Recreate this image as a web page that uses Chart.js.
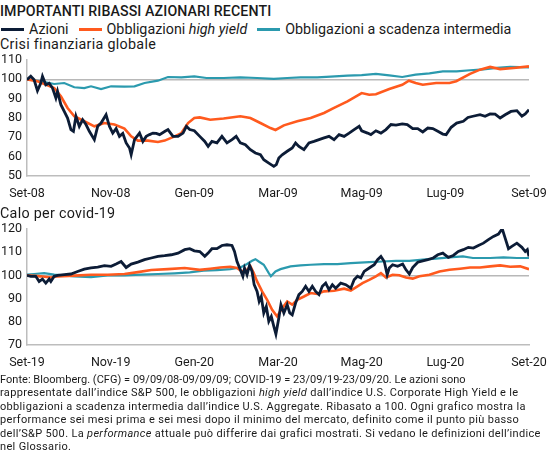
<!DOCTYPE html>
<html>
<head>
<meta charset="utf-8">
<script src="https://cdn.jsdelivr.net/npm/chart.js@4"></script>
<style>
  body { margin: 0; background: #fff; font-family: Roboto, sans-serif; color: #1a1a1a; }
  .page { position: relative; width: 547px; height: 456px; overflow: hidden; }
  .txt { position: absolute; left: 0; white-space: nowrap; }
  .title { top: 3px; font-size: 14.2px; font-weight: 500; letter-spacing: 0.1px; }
  .legend { top: 21px; font-size: 14.3px; display: flex; align-items: center; }
  .legend span.sw { display: inline-block; width: 23px; height: 3px; margin: 0 5px 0 1px; }
  .legend span.item { margin-right: 9px; }
  .sub { font-size: 14.3px; letter-spacing: 0.3px; }
  .chartbox { position: absolute; left: 0; width: 547px; height: 156px; }
  .note { top: 373px; font-size: 11px; line-height: 13.4px; letter-spacing: 0.33px; }
  .note .l1 { letter-spacing: 0.03px; }
</style>
</head>
<body>
<div class="page">
  <div class="txt title">IMPORTANTI RIBASSI AZIONARI RECENTI</div>
  <div class="txt legend">
    <span class="sw" style="background:#0c1c36"></span><span class="item">Azioni</span>
    <span class="sw" style="background:#ff5a1e"></span><span class="item">Obbligazioni <i>high yield</i></span>
    <span class="sw" style="background:#2b9aae"></span><span class="item">Obbligazioni a scadenza intermedia</span>
  </div>
  <div class="txt sub" style="top:36px">Crisi finanziaria globale</div>
  <div class="chartbox" style="top:50px"><canvas id="gfc"></canvas></div>
  <div class="txt sub" style="top:205px">Calo per covid-19</div>
  <div class="chartbox" style="top:219px"><canvas id="covid"></canvas></div>
  <div class="txt note"><span class="l1">Fonte: Bloomberg. (CFG) = 09/09/08-09/09/09; COVID-19 = 23/09/19-23/09/20. Le azioni sono</span><br>rappresentate dall’indice S&amp;P 500, le obbligazioni <i>high yield</i> dall’indice U.S. Corporate High Yield e le<br>obbligazioni a scadenza intermedia dall’indice U.S. Aggregate. Ribasato a 100. Ogni grafico mostra la<br>performance sei mesi prima e sei mesi dopo il minimo del mercato, definito come il punto più basso<br>dell’S&amp;P 500. La <i>performance</i> attuale può differire dai grafici mostrati. Si vedano le definizioni dell’indice<br>nel Glossario.</div>
</div>
<script>
// series names
const seriesNames = ['Azioni', 'Obbligazioni high yield', 'Obbligazioni a scadenza intermedia']

// crisi finanziaria globale (x = months from Set-08)
const gfcTicks = ['Set-08', 'Nov-08', 'Gen-09', 'Mar-09', 'Mag-09', 'Lug-09', 'Set-09']
const gfcStocksM = [0, 0.09, 0.17, 0.25, 0.33, 0.37, 0.45, 0.53, 0.61, 0.69, 0.73, 0.81, 0.89, 0.97, 1.05, 1.11, 1.17, 1.25, 1.33, 1.41, 1.49, 1.61, 1.69, 1.77, 1.89, 1.97, 2.05, 2.13, 2.21, 2.29, 2.37, 2.45, 2.49, 2.57, 2.69, 2.77, 2.85, 2.93, 3.01, 3.09, 3.17, 3.29, 3.37, 3.49, 3.61, 3.73, 3.81, 3.89, 4.0, 4.13, 4.25, 4.33, 4.42, 4.54, 4.66, 4.78, 4.9, 5.0, 5.1, 5.22, 5.34, 5.46, 5.58, 5.66, 5.78, 5.9, 5.96, 6.02, 6.1, 6.22, 6.34, 6.42, 6.5, 6.62, 6.74, 6.86, 6.98, 7.1, 7.22, 7.34, 7.46, 7.58, 7.7, 7.82, 7.94, 8.0, 8.14, 8.22, 8.34, 8.46, 8.58, 8.7, 8.82, 8.97, 9.09, 9.22, 9.34, 9.46, 9.58, 9.7, 9.82, 9.94, 10.02, 10.14, 10.27, 10.43, 10.54, 10.66, 10.83, 10.95, 11.07, 11.19, 11.31, 11.43, 11.57, 11.71, 11.83, 11.91, 12.0]
const gfcStocks = [99.8, 101.6, 99.8, 94.1, 98.1, 101.6, 97.2, 98, 95.5, 90.3, 93.8, 86.9, 83.4, 80, 74, 73.1, 80.9, 75.7, 79.1, 76.6, 73.1, 68.8, 75.7, 77.4, 81.7, 75.7, 72.2, 74.5, 70.5, 72, 67.1, 64.5, 61, 68.8, 72.2, 67.9, 70.5, 71.4, 72.2, 72, 71.4, 73, 74, 70.5, 70.5, 72.2, 75.7, 74, 73.4, 70.5, 67.9, 65.3, 67.9, 67.1, 70.5, 67.1, 68.8, 70.5, 67.1, 66.2, 63.6, 61.9, 61, 58.4, 56.7, 55, 55.9, 59.3, 61, 62.8, 64.5, 67.1, 65.3, 63.6, 67.1, 67.9, 68.8, 69.7, 70.5, 68.8, 71.4, 70.5, 72.2, 74, 75.7, 73.4, 72.2, 71.4, 73.4, 72.2, 74, 76.6, 76.3, 77, 76.6, 74.5, 74.5, 72.8, 74.8, 74.5, 73.1, 71.7, 71.4, 75.2, 77.4, 78.3, 80.3, 80.9, 81.7, 80.9, 82.1, 82, 80, 81.7, 83.4, 83.8, 80.9, 82.1, 84.3]
const gfcHighYieldM = [0, 0.25, 0.49, 0.65, 0.81, 0.97, 1.13, 1.37, 1.61, 1.85, 2.09, 2.33, 2.49, 2.65, 2.89, 3.13, 3.29, 3.53, 3.69, 3.85, 4.0, 4.13, 4.38, 4.7, 5.1, 5.34, 5.58, 5.82, 5.94, 6.14, 6.46, 6.78, 7.1, 7.34, 7.66, 8.0, 8.18, 8.34, 8.66, 8.97, 9.13, 9.29, 9.46, 9.78, 10.1, 10.26, 10.59, 10.83, 11.07, 11.31, 11.63, 12.0]
const gfcHighYield = [100, 99, 96.9, 95.5, 91.2, 85.2, 80.9, 78.3, 75.7, 77.4, 76.6, 74.5, 70.5, 68.3, 68.3, 67.6, 68.3, 70.5, 72.2, 77.4, 80, 80.3, 79.1, 79.7, 80.9, 80, 77.4, 74.8, 73.8, 76.2, 78.3, 80, 82.6, 85.2, 88.6, 92.9, 92, 92.3, 95, 97.2, 99.3, 98.1, 97.2, 98.1, 98.1, 99, 102.8, 105, 106.4, 105.3, 105.9, 106.7]
const gfcIntermM = [0, 0.33, 0.65, 0.89, 1.13, 1.37, 1.53, 1.77, 2.01, 2.33, 2.57, 2.81, 3.13, 3.37, 3.69, 4.0, 4.29, 4.7, 5.1, 5.5, 5.9, 6.22, 6.54, 6.94, 7.26, 7.66, 8.0, 8.34, 8.66, 8.97, 9.29, 9.62, 9.94, 10.27, 10.59, 10.91, 11.23, 11.55, 12.0]
const gfcInterm = [100, 99, 97.6, 98.1, 95.9, 95.5, 96.4, 95, 96.4, 96.2, 96.4, 98.1, 99.3, 101.2, 101, 101.5, 100.7, 100.7, 101, 100.7, 100.2, 100.7, 101, 101, 101.4, 101.9, 102.2, 102.8, 102, 101.2, 102.4, 103.1, 104.1, 104.1, 104.7, 105.2, 105.9, 106.4, 106.2]

// calo per covid-19 (x = months from Set-19)
const covidTicks = ['Set-19', 'Nov-19', 'Gen-20', 'Mar-20', 'Mag-20', 'Lug-20', 'Set-20']
const covidStocksM = [0, 0.09, 0.21, 0.29, 0.37, 0.45, 0.53, 0.57, 0.65, 0.73, 0.89, 1.05, 1.21, 1.37, 1.53, 1.69, 1.85, 2.01, 2.13, 2.25, 2.37, 2.49, 2.65, 2.81, 2.97, 3.13, 3.29, 3.45, 3.61, 3.77, 3.89, 4.0, 4.13, 4.25, 4.33, 4.42, 4.54, 4.66, 4.78, 4.9, 4.96, 5.02, 5.1, 5.16, 5.2, 5.26, 5.32, 5.38, 5.43, 5.5, 5.55, 5.6, 5.66, 5.72, 5.78, 5.84, 5.9, 5.95, 6.02, 6.07, 6.14, 6.22, 6.28, 6.34, 6.42, 6.5, 6.58, 6.66, 6.74, 6.82, 6.9, 6.98, 7.06, 7.14, 7.22, 7.3, 7.38, 7.5, 7.62, 7.74, 7.82, 7.9, 7.98, 8.06, 8.18, 8.3, 8.38, 8.46, 8.54, 8.61, 8.66, 8.74, 8.86, 8.98, 9.06, 9.14, 9.22, 9.34, 9.46, 9.58, 9.71, 9.82, 9.94, 10.07, 10.19, 10.31, 10.43, 10.55, 10.67, 10.79, 10.91, 11.03, 11.15, 11.27, 11.36, 11.43, 11.51, 11.59, 11.71, 11.83, 11.91, 11.96, 12.0]
const covidStocks = [100, 99.6, 99.6, 97.4, 98.4, 96.7, 98.4, 97.4, 99.6, 100, 100.3, 100.6, 101.7, 102.7, 103.2, 103.6, 104.2, 103.9, 104.9, 106, 103.4, 104.9, 105.7, 106.8, 107.5, 108.2, 108.5, 108.9, 109.6, 111.1, 111.5, 110.6, 110.3, 108.2, 109.6, 111.5, 111.5, 112.9, 113.2, 112.9, 110.3, 106, 102.4, 99.6, 103.2, 100.3, 104.3, 101.7, 96, 93.1, 88.8, 90.9, 83.8, 86.6, 80.2, 82.3, 78, 74.7, 81.6, 87.4, 83.8, 87.4, 83.8, 83, 88.1, 91.7, 93.1, 95.3, 93.1, 95.3, 93.1, 91.7, 95.3, 96.7, 93.8, 96, 94.5, 96.7, 96, 94.5, 98.1, 99.6, 98.9, 101.7, 103.2, 104.6, 106.8, 108.2, 106, 100.3, 103.2, 104.6, 103.9, 104.9, 102.4, 100.6, 103.4, 105.7, 106.3, 106.8, 107.5, 108.9, 109.6, 107.8, 108.6, 110.3, 111.1, 112.1, 111.8, 112.9, 113.9, 115.4, 116.8, 117.8, 120.1, 116.1, 111.5, 112.5, 113.9, 112.1, 110.3, 111.1, 108.2]
const covidHighYieldM = [0, 0.33, 0.57, 0.73, 1.13, 1.53, 1.93, 2.33, 2.65, 2.97, 3.37, 3.77, 4.13, 4.38, 4.62, 4.86, 5.02, 5.14, 5.26, 5.34, 5.42, 5.5, 5.62, 5.74, 5.86, 5.98, 6.1, 6.22, 6.34, 6.46, 6.62, 6.78, 6.94, 7.1, 7.34, 7.58, 7.74, 7.9, 8.02, 8.18, 8.34, 8.46, 8.58, 8.74, 8.9, 9.06, 9.22, 9.38, 9.62, 9.86, 10.1, 10.35, 10.59, 10.83, 11.07, 11.31, 11.55, 11.79, 12.0]
const covidHighYield = [100, 99.6, 99.1, 99.6, 99.9, 100.3, 100.3, 100.6, 101.4, 102.3, 102.7, 103.2, 102.4, 102.9, 103.4, 103.7, 103.2, 101.7, 102.4, 103.9, 101, 97.4, 93.1, 89.5, 85.2, 82.3, 85.9, 88.8, 87.4, 89.5, 90.9, 92.4, 92, 93.1, 93.4, 94.3, 93.5, 95.3, 96.7, 98.1, 99.6, 101, 99.1, 100.3, 100.1, 99.1, 98.6, 99.6, 100.3, 101.7, 102.4, 102.9, 103.4, 103.4, 103.9, 104.3, 103.7, 103.9, 102.7]
const covidIntermM = [0, 0.17, 0.41, 0.65, 0.89, 1.13, 1.53, 1.93, 2.33, 2.73, 3.13, 3.53, 3.89, 4.22, 4.54, 4.86, 5.1, 5.26, 5.38, 5.46, 5.54, 5.66, 5.78, 5.83, 5.94, 6.06, 6.3, 6.54, 6.78, 7.1, 7.42, 7.74, 8.18, 8.5, 8.82, 9.14, 9.46, 9.78, 10.1, 10.42, 10.66, 11.07, 11.39, 11.71, 12.0]
const covidInterm = [100.3, 100.6, 101, 100.3, 100, 99.6, 99.3, 100, 100, 100.3, 100.6, 100.9, 101.3, 102, 102.3, 102.7, 103.4, 104.9, 106.3, 107, 106, 104.6, 101, 99.6, 101.7, 102.7, 103.9, 104.3, 104.6, 104.9, 104.9, 105.3, 105.7, 106, 106.3, 106.3, 106.8, 107.2, 107.8, 108.2, 107.5, 107.5, 107.8, 107.5, 107.5]

const colors = ['#0c1c36', '#ff5a1e', '#2b9aae']
const widths = [2.8, 2.6, 2.2]

const toPoints = (xs, ys) => xs.map((x, i) => ({ x: x, y: ys[i] }))

const renderPanel = (canvasId, series, tickLabels, yMin, yMax) => {
    const datasets = series.map((s, i) => ({
        label: seriesNames[i],
        data: toPoints(s[0], s[1]),
        borderColor: colors[i],
        borderWidth: widths[i],
        pointRadius: 0,
        tension: 0,
        fill: false
    }))
    const config = {
        type: 'line',
        data: { datasets: datasets },
        options: {
            animation: false,
            responsive: true,
            maintainAspectRatio: false,
            layout: { padding: { left: 0, right: 0, top: 10, bottom: 0 } },
            plugins: { legend: { display: false }, tooltip: { enabled: false } },
            scales: {
                x: {
                    type: 'linear',
                    min: 0,
                    max: 12,
                    afterBuildTicks: (axis) => {
                        axis.ticks = tickLabels.map((t, i) => ({ value: i * 2 }))
                    },
                    // fixed axis box so the plot lines up with the original
                    // (labels are clipped to this box, so it holds the whole label)
                    afterFit: (axis) => {
                        axis.height = 30
                        axis.paddingLeft = 0
                        axis.paddingRight = 18
                    },
                    ticks: {
                        autoSkip: false,
                        maxRotation: 0,
                        padding: 10,
                        color: '#1a1a1a',
                        font: { family: 'Roboto', size: 12.5 },
                        callback: (v) => tickLabels[v / 2]
                    },
                    grid: { display: false, drawTicks: false },
                    border: { display: true, color: '#bdbdbd', width: 1.5 }
                },
                y: {
                    min: yMin,
                    max: yMax,
                    afterFit: (axis) => {
                        axis.width = 27
                        axis.paddingTop = 0
                        axis.paddingBottom = 0
                    },
                    ticks: {
                        autoSkip: false,
                        stepSize: 10,
                        padding: 5,
                        color: '#1a1a1a',
                        font: { family: 'Roboto', size: 12.5 }
                    },
                    grid: {
                        drawTicks: false,
                        lineWidth: 1.5,
                        color: (c) => c.tick && c.tick.value === 100 ? '#b8b8b8' : 'rgba(0,0,0,0)'
                    },
                    border: { display: true, color: '#bdbdbd', width: 1.5 }
                }
            }
        }
    }
    return new Chart(document.getElementById(canvasId), config)
}

renderPanel('gfc', [[gfcStocksM, gfcStocks], [gfcHighYieldM, gfcHighYield], [gfcIntermM, gfcInterm]], gfcTicks, 50, 110)
renderPanel('covid', [[covidStocksM, covidStocks], [covidHighYieldM, covidHighYield], [covidIntermM, covidInterm]], covidTicks, 70, 120)
</script>
</body>
</html>
